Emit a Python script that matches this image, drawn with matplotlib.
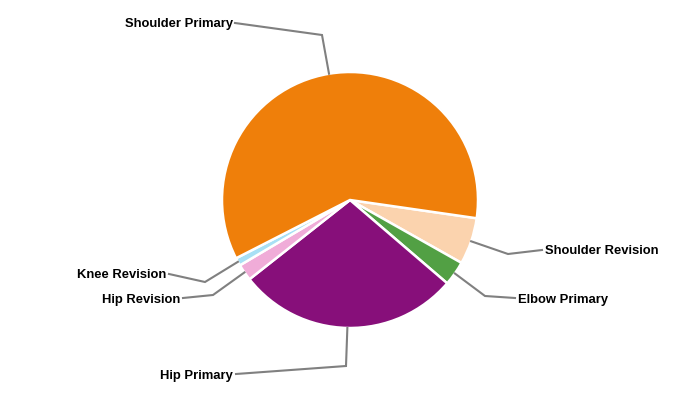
import numpy as np
import matplotlib
matplotlib.use("Agg")
import matplotlib.pyplot as plt

categories = ["Shoulder Revision", "Elbow Primary", "Hip Primary", "Hip Revision", "Knee Revision", "Shoulder Primary"]
values = [5.9, 3.1, 28.1, 2.1, 1.0, 59.8]
colors = ["#FBD3AE", "#52A044", "#870F7A", "#F0ACD8", "#A8E0F5", "#EF7F0A"]

# layout of labels: (bend point, line end, text anchor, ha)
label_layout = {
    "Shoulder Primary": ((322, 35), (235, 23), (233, 24.5), "right"),
    "Shoulder Revision": ((508, 254), (542, 250), (545, 250.5), "left"),
    "Elbow Primary": ((485, 296), (515, 298), (518, 299.5), "left"),
    "Hip Primary": ((346, 366), (236, 374), (233, 375.5), "right"),
    "Hip Revision": ((213, 295), (183, 298), (180, 299.5), "right"),
    "Knee Revision": ((205, 282), (169, 274), (166, 274.5), "right"),
}

fig = plt.figure(figsize=(7, 4), dpi=100)
ax = fig.add_axes([0, 0, 1, 1])
cx, cy, R = 350, 200, 128
wedges, _ = ax.pie(values, colors=colors, startangle=8.2, counterclock=True,
                   center=(cx, cy), radius=R, frame=True,
                   wedgeprops=dict(edgecolor="white", linewidth=1.8))
ax.set_xlim(0, 700)
ax.set_ylim(400, 0)
ax.set_aspect("equal")
ax.set_axis_off()

for w, name in zip(wedges, categories):
    mid = np.deg2rad((w.theta1 + w.theta2) / 2)
    sx, sy = cx + R * np.cos(mid), cy + R * np.sin(mid)
    bend, end, txt, ha = label_layout[name]
    ax.plot([sx, bend[0], end[0]], [sy, bend[1], end[1]], color="#808080", lw=1.5,
            solid_joinstyle="miter")
    ax.text(txt[0], txt[1], name, ha=ha, va="center", fontsize=9.4,
            fontweight="bold", family=["Liberation Sans", "DejaVu Sans"], color="black")

fig.savefig("out.png", dpi=100)
